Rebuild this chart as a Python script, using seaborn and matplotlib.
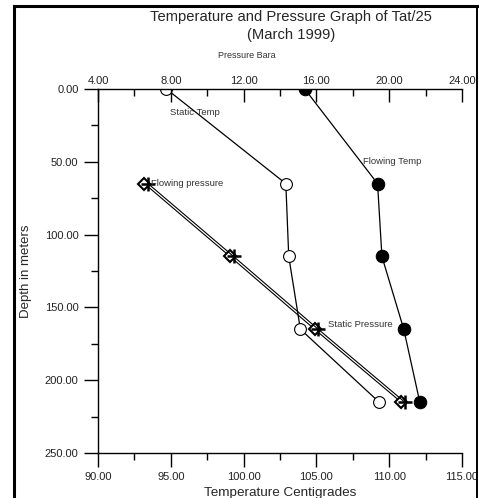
import matplotlib
matplotlib.use("Agg")
import matplotlib.pyplot as plt
import seaborn as sns
import numpy as np
import pandas as pd
from matplotlib.lines import Line2D
from matplotlib.ticker import MultipleLocator, FormatStrFormatter

# ---- data ----
depth = [0, 65, 115, 165, 215]
static_temp = [94.7, 102.9, 103.1, 103.9, 109.3]
flowing_temp = [104.2, 109.2, 109.5, 111.0, 112.1]
depth_p = [65, 115, 165, 215]
flowing_pressure = [6.55, 11.25, 15.9, 20.65]
static_pressure = [6.75, 11.45, 16.1, 20.85]

title = "Temperature and Pressure Graph of Tat/25\n(March 1999)"

sns.set_style("ticks")
plt.rcParams['font.family'] = ['Liberation Sans', 'DejaVu Sans']

fig = plt.figure(figsize=(4.79, 4.98), dpi=100)
W, H = 479, 498
ax = fig.add_axes([98 / W, 1 - 453 / H, (462 - 98) / W, (453 - 89) / H])

st = pd.DataFrame({"T": static_temp, "d": depth})
ft = pd.DataFrame({"T": flowing_temp, "d": depth})
sns.lineplot(data=st, x="T", y="d", sort=False, ax=ax, color="black", lw=0.9,
             marker="o", markersize=8.5, markerfacecolor="white",
             markeredgecolor="black", markeredgewidth=0.8)
sns.lineplot(data=ft, x="T", y="d", sort=False, ax=ax, color="black", lw=0.9,
             marker="o", markersize=9, markerfacecolor="black",
             markeredgecolor="black")

ax.set_xlim(90, 115)
ax.set_ylim(250, 0)
ax.xaxis.set_major_locator(MultipleLocator(5))
ax.xaxis.set_minor_locator(MultipleLocator(2.5))
ax.yaxis.set_major_locator(MultipleLocator(50))
ax.yaxis.set_minor_locator(MultipleLocator(25))
ax.xaxis.set_major_formatter(FormatStrFormatter("%.2f"))
ax.yaxis.set_major_formatter(FormatStrFormatter("%.2f"))
ax.tick_params(axis="both", which="major", direction="out", length=10, width=1,
               labelsize=8, color="black", labelcolor="#222222", pad=4)
ax.tick_params(axis="both", which="minor", direction="out", length=5, width=1, color="black")
for s in ["right", "top"]:
    ax.spines[s].set_visible(False)
for s in ["left", "bottom"]:
    ax.spines[s].set_color("black")
    ax.spines[s].set_linewidth(1)

ax.set_xlabel("Temperature Centigrades", fontsize=9.7, labelpad=3)
ax.set_ylabel("Depth in meters", fontsize=9.5, labelpad=9)

ax2 = ax.twiny()
fp = pd.DataFrame({"P": flowing_pressure, "d": depth_p})
sp = pd.DataFrame({"P": static_pressure, "d": depth_p})
sns.lineplot(data=fp, x="P", y="d", sort=False, ax=ax2, color="black", lw=0.8,
             marker="D", markersize=6.5, markerfacecolor="white",
             markeredgecolor="black", markeredgewidth=1.5)
sns.lineplot(data=sp, x="P", y="d", sort=False, ax=ax2, color="black", lw=0.8,
             marker="+", markersize=10, markeredgecolor="black", markeredgewidth=1.8)
ax2.set_xlim(4, 24)
ax2.set_ylim(250, 0)
ax2.xaxis.set_major_locator(MultipleLocator(4))
ax2.xaxis.set_minor_locator(MultipleLocator(2))
ax2.xaxis.set_major_formatter(FormatStrFormatter("%.2f"))
ax2.tick_params(axis="x", which="major", direction="in", length=9, width=1,
                labelsize=8, pad=2, color="black", labelcolor="#222222")
ax2.tick_params(axis="x", which="minor", direction="in", length=5, width=1, color="black")
for s in ["right", "left", "bottom"]:
    ax2.spines[s].set_visible(False)
ax2.spines["top"].set_color("black")
ax2.spines["top"].set_linewidth(1)
ax2.set_xlabel("")
ax2.set_ylabel("")

# labels
lc = "#333333"
ax.text(94.95, 15.8, "Static Temp", fontsize=6.8, va="center", ha="left", color=lc)
ax.text(108.2, 49.5, "Flowing Temp", fontsize=6.8, va="center", ha="left", color=lc)
ax2.text(6.9, 65, "Flowing pressure", fontsize=6.8, va="center", ha="left", color=lc)
ax2.text(16.65, 162, "Static Pressure", fontsize=6.8, va="center", ha="left", color=lc)

fig.text(291 / W, 1 - 26 / H, title, fontsize=10.6, ha="center", va="center", linespacing=1.3)
fig.text(247 / W, 1 - 56 / H, "Pressure Bara", fontsize=6.5, ha="center", va="center", color=lc)

# outer frame
def fl(x0, y0, x1, y1, lw):
    fig.add_artist(Line2D([x0 / W, x1 / W], [1 - y0 / H, 1 - y1 / H], color="black",
                          lw=lw, transform=fig.transFigure, solid_capstyle="projecting"))
fl(14, 6, 14, 498, 2.2)
fl(14, 6, 477, 6, 2.2)
fl(477, 6, 477, 498, 1.4)

fig.savefig("out.png", dpi=100, facecolor="white")
